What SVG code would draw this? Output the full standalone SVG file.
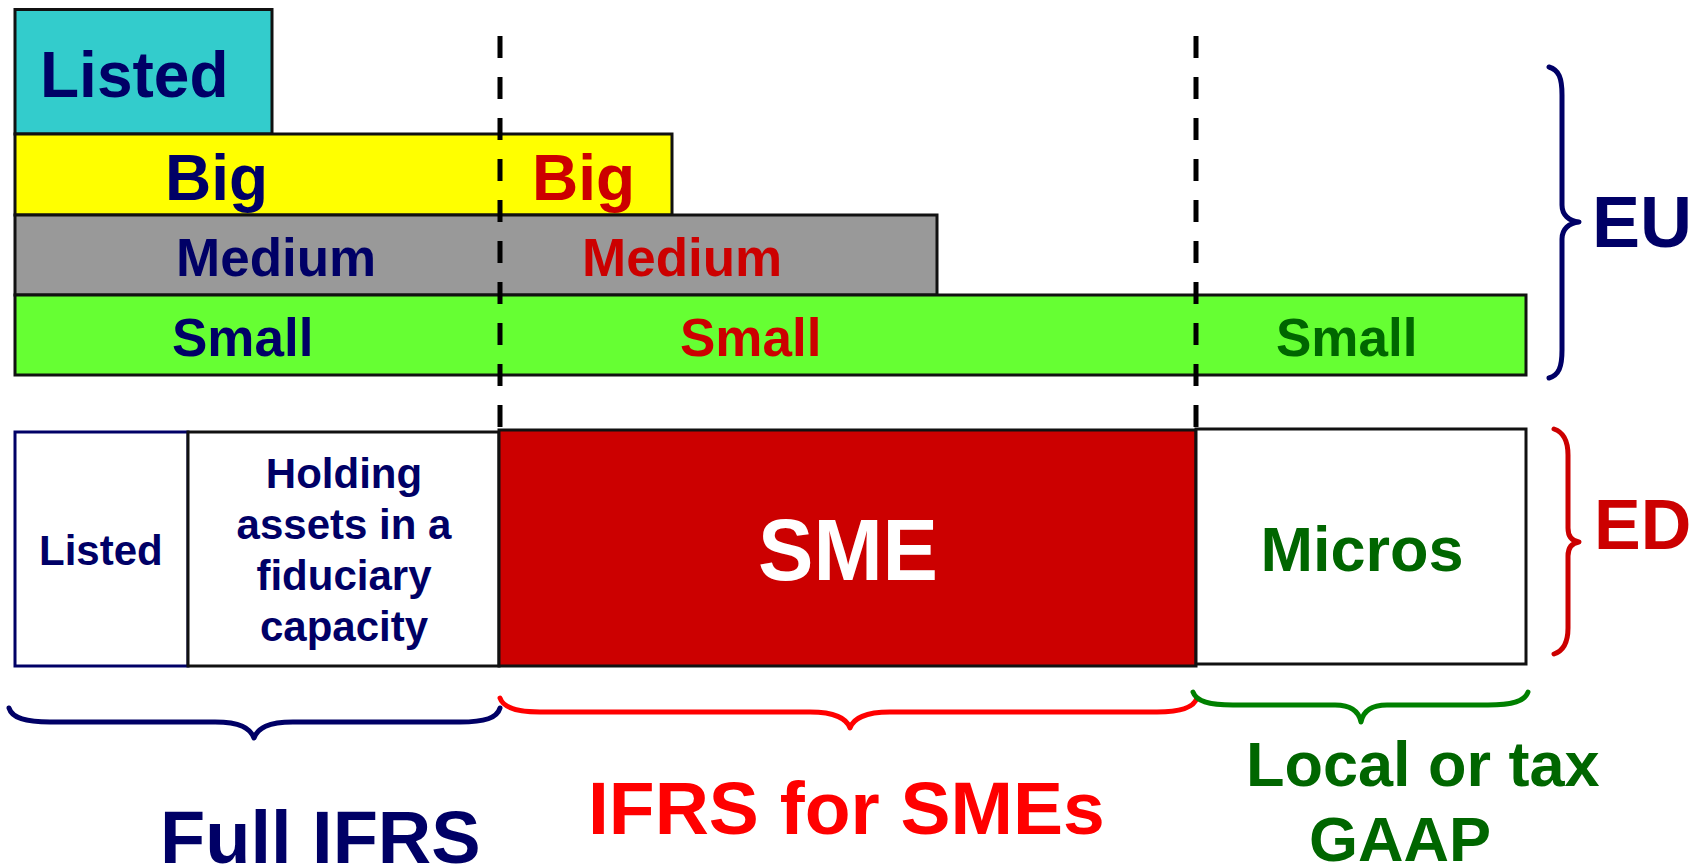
<svg xmlns="http://www.w3.org/2000/svg" width="1706" height="866" viewBox="0 0 1706 866">
<style>
text{font-family:"Liberation Sans",Arial,sans-serif;font-weight:bold}
.box{stroke:#111;stroke-width:3}
.navy{fill:#000066}
.red{fill:#CC0000}
.green{fill:#006600}
.dash{stroke:#000;stroke-width:5;stroke-dasharray:22 19;fill:none}
.brace{fill:none;stroke-width:5;stroke-linecap:round;stroke-linejoin:round}
</style>
<rect width="1706" height="866" fill="#fff"/>
<g id="eu-listed"><rect class="box" x="15" y="9.5" width="257" height="124.5" fill="#33CCCC"/><text class="navy" x="40" y="97" font-size="64">Listed</text></g>
<g id="eu-big"><rect class="box" x="15" y="134" width="657" height="81" fill="#FFFF00"/><text class="navy" x="165" y="200" font-size="64">Big</text><text class="red" x="532" y="200" font-size="64">Big</text></g>
<g id="eu-medium"><rect class="box" x="15" y="215" width="922" height="80" fill="#999999"/><text class="navy" x="176" y="276" font-size="53">Medium</text><text class="red" x="582" y="276" font-size="53">Medium</text></g>
<g id="eu-small"><rect class="box" x="15" y="295" width="1511" height="80" fill="#66FF33"/><text class="navy" x="172" y="356" font-size="53">Small</text><text class="red" x="680" y="356" font-size="53">Small</text><text class="green" x="1276" y="356" font-size="53">Small</text></g>
<g id="ed-listed"><rect x="15" y="432" width="173" height="234" fill="#fff" stroke="#000066" stroke-width="3"/><text class="navy" x="39" y="565" font-size="42">Listed</text></g>
<g id="ed-holding"><rect class="box" x="188" y="432" width="311" height="234" fill="#fff"/><text class="navy" font-size="42" text-anchor="middle"><tspan x="344" y="488">Holding</tspan><tspan x="344" y="539">assets in a</tspan><tspan x="344" y="590">fiduciary</tspan><tspan x="344" y="641">capacity</tspan></text></g>
<g id="ed-sme"><rect class="box" x="499" y="430" width="697" height="236" fill="#CC0000"/><text x="848" y="580" font-size="88" fill="#fff" text-anchor="middle" textLength="180" lengthAdjust="spacingAndGlyphs">SME</text></g>
<g id="ed-micros"><rect class="box" x="1196" y="429" width="330" height="235" fill="#fff"/><text class="green" x="1362" y="571" font-size="63" text-anchor="middle">Micros</text></g>
<g id="connectors">
<line class="dash" x1="500" y1="36" x2="500" y2="431"/>
<line class="dash" x1="1196" y1="36" x2="1196" y2="430"/>
<path class="brace" stroke="#000066" d="M1549,67 C1559,70 1562,78 1562,95 L1562,205 C1562,215 1569,221 1579,222 C1569,223 1562,229 1562,239 L1562,350 C1562,367 1559,375 1549,378"/>
<path class="brace" stroke="#CC0000" d="M1554,429 C1563,432 1568,440 1568,455 L1568,528 C1568,537 1572,541 1579,542 C1572,543 1568,547 1568,556 L1568,628 C1568,643 1563,651 1554,654"/>
<path class="brace" stroke="#000066" d="M9,708 C12,718 25,722 50,722 L215,722 C240,722 250,728 254,738 C258,728 268,722 293,722 L460,722 C485,722 497,718 500,708"/>
<path class="brace" stroke="#FF0000" d="M500,698 C503,707 515,712 540,712 L810,712 C835,712 847,719 850,728 C853,719 865,712 890,712 L1157,712 C1182,712 1194,707 1197,698"/>
<path class="brace" stroke="#008000" d="M1193,692 C1196,701 1208,705 1233,705 L1335,705 C1352,705 1359,712 1361,722 C1363,712 1370,705 1387,705 L1488,705 C1513,705 1525,701 1528,692"/>
</g>
<g id="labels">
<text class="navy" x="1592" y="247" font-size="72">EU</text>
<text class="red" x="1594" y="549" font-size="70">ED</text>
<text class="navy" x="160" y="863" font-size="74">Full IFRS</text>
<text x="588" y="834" font-size="75" fill="#FF0000">IFRS for SMEs</text>
<text class="green" x="1246" y="786" font-size="63">Local or tax</text>
<text class="green" x="1309" y="861" font-size="63">GAAP</text>
</g>
</svg>
